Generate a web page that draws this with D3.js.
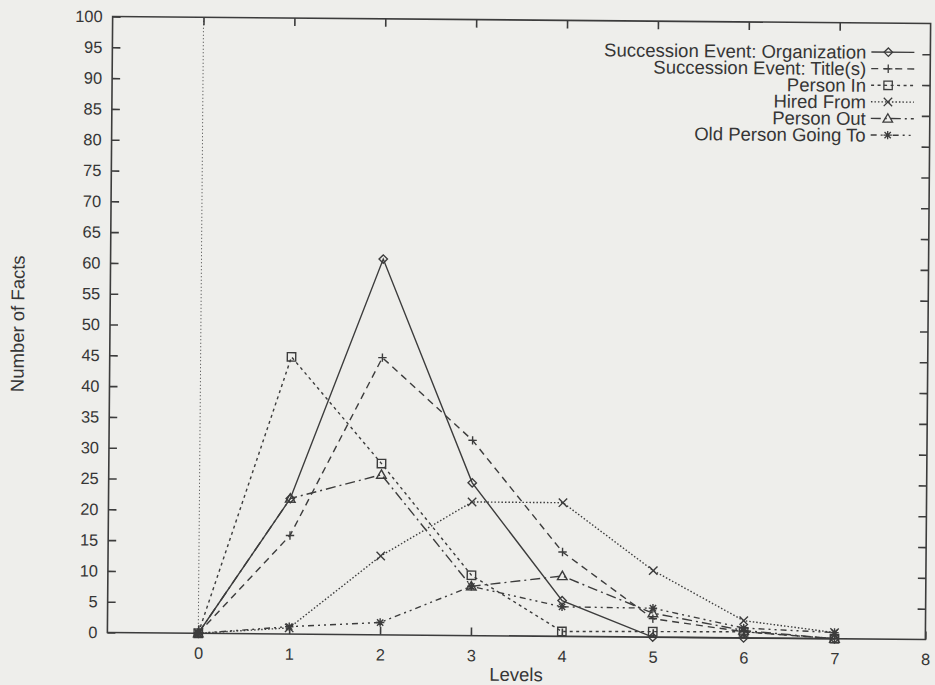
<!DOCTYPE html>
<html>
<head>
<meta charset="utf-8">
<script src="https://cdn.jsdelivr.net/npm/d3@7"></script>
<style>
  html, body { margin: 0; padding: 0; background: #eeeeeb; }
  svg { display: block; }
  text { font-family: "Liberation Sans", Arial, Helvetica, sans-serif; fill: #363636; }
</style>
</head>
<body>
<svg id="chart" width="935" height="685"></svg>
<script>
// Number of facts found at each level, one array per fact type
const levels = [0, 1, 2, 3, 4, 5, 6, 7];
const organization = [0, 22, 61, 24.8, 5.8, 0, 0, 0];
const titles       = [0, 16, 45, 31.7, 13.7, 3.0, 1.0, 0];
const personIn     = [0, 45, 27.8, 9.8, 0.8, 0.9, 1.0, 0];
const hiredFrom    = [0, 1.0, 12.8, 21.7, 21.7, 10.8, 2.8, 1.0];
const personOut    = [0, 22, 26, 8.0, 9.8, 3.9, 1.2, 0];
const oldPersonTo  = [0, 1.2, 2.0, 8.0, 4.8, 4.7, 1.6, 1.0];

const seriesNames = [
  "Succession Event: Organization",
  "Succession Event: Title(s)",
  "Person In",
  "Hired From",
  "Person Out",
  "Old Person Going To"
];
const seriesValues = [organization, titles, personIn, hiredFrom, personOut, oldPersonTo];

const xTicks = [0, 1, 2, 3, 4, 5, 6, 7, 8];
const yTicks = d3.range(0, 101, 5);

// Drawing styles: dash pattern and point symbol for each series
const dashes  = [null, "7,5", "3,3.5", "1.5,2", "10,4,2,4", "6,4,2,4,2,4"];
const symbols = ["diamond", "plus", "square", "cross", "triangle", "star"];

const ink = "#3c3c3c";
const svg = d3.select("#chart");
svg.append("rect").attr("width", 935).attr("height", 685).attr("fill", "#eeeeeb");

const plotLeft = 110, plotRight = 928, plotTop = 20, plotBottom = 636;
const x = d3.scaleLinear().domain([-1, 8]).range([plotLeft, plotRight]);
const y = d3.scaleLinear().domain([0, 100]).range([plotBottom, plotTop]);

// the printed page sits slightly turned
const g = svg.append("g").attr("transform", "rotate(0.49, 519, 328)");

// dotted line at level 0
g.append("line")
  .attr("x1", x(0)).attr("x2", x(0)).attr("y1", plotTop).attr("y2", plotBottom)
  .attr("stroke", ink).attr("stroke-width", 1).attr("stroke-dasharray", "1,2.5");

// axes with inward ticks on all four sides
const styleAxis = sel => {
  sel.select(".domain").remove();
  sel.selectAll(".tick line").attr("stroke", ink).attr("stroke-width", 1.6);
  sel.selectAll(".tick text").attr("fill", "#363636")
    .style("font-size", "16.4px").style("font-family", "'Liberation Sans', Arial, sans-serif");
};
g.append("g").attr("transform", `translate(${plotLeft},0)`)
  .call(d3.axisLeft(y).tickValues(yTicks).tickSize(-8).tickPadding(10).tickFormat(d3.format("d")))
  .call(styleAxis);
g.append("g").attr("transform", `translate(${plotRight},0)`)
  .call(d3.axisRight(y).tickValues(yTicks.slice(1, -1)).tickSize(-8).tickFormat(""))
  .call(styleAxis);
g.append("g").attr("transform", `translate(0,${plotBottom})`)
  .call(d3.axisBottom(x).tickValues(xTicks).tickSize(-8).tickPadding(14).tickFormat(d3.format("d")))
  .call(styleAxis);
g.append("g").attr("transform", `translate(0,${plotTop})`)
  .call(d3.axisTop(x).tickValues(xTicks.slice(0, -1)).tickSize(-8).tickFormat(""))
  .call(styleAxis);

// plot frame
g.append("rect")
  .attr("x", plotLeft).attr("y", plotTop)
  .attr("width", plotRight - plotLeft).attr("height", plotBottom - plotTop)
  .attr("fill", "none").attr("stroke", ink).attr("stroke-width", 1.6);

// axis titles
g.append("text").attr("x", (plotLeft + plotRight) / 2).attr("y", 681)
  .attr("text-anchor", "middle").style("font-size", "18.5px").text("Levels");
g.append("text").attr("transform", `translate(24,${(plotTop + plotBottom) / 2}) rotate(-90)`)
  .attr("text-anchor", "middle").style("font-size", "18.5px").text("Number of Facts");

// point symbols
function symbolPath(kind) {
  const r = 4.2;
  switch (kind) {
    case "diamond":  return `M0,${-r}L${r},0L0,${r}L${-r},0Z`;
    case "plus":     return `M${-r},0H${r}M0,${-r}V${r}`;
    case "square":   return `M${-r},${-r}H${r}V${r}H${-r}Z`;
    case "cross":    return `M${-r},${-r}L${r},${r}M${-r},${r}L${r},${-r}`;
    case "triangle": return `M0,${-r - 0.6}L${r + 0.6},${r - 0.6}L${-r - 0.6},${r - 0.6}Z`;
    case "star":     return `M${-r},0H${r}M0,${-r}V${r}M${-r * 0.75},${-r * 0.75}L${r * 0.75},${r * 0.75}M${-r * 0.75},${r * 0.75}L${r * 0.75},${-r * 0.75}`;
  }
}

const line = d3.line().x(d => x(d[0])).y(d => y(d[1]));

seriesValues.forEach((vals, i) => {
  const pts = levels.map((lv, k) => [lv, vals[k]]);
  g.append("path").datum(pts)
    .attr("d", line)
    .attr("fill", "none").attr("stroke", ink).attr("stroke-width", 1.4)
    .attr("stroke-dasharray", dashes[i]);
  g.append("g").selectAll("path").data(pts).join("path")
    .attr("transform", d => `translate(${x(d[0])},${y(d[1])})`)
    .attr("d", symbolPath(symbols[i]))
    .attr("fill", "none").attr("stroke", ink).attr("stroke-width", 1.4);
});

// key
const key = g.append("g");
seriesNames.forEach((name, i) => {
  const cy = 49 + i * 16.6;
  key.append("text").attr("x", 864).attr("y", cy).attr("dy", "0.36em")
    .attr("text-anchor", "end").style("font-size", "18.5px").text(name);
  key.append("line").attr("x1", 869).attr("x2", 912).attr("y1", cy).attr("y2", cy)
    .attr("stroke", ink).attr("stroke-width", 1.4).attr("stroke-dasharray", dashes[i]);
  key.append("path").attr("transform", `translate(886,${cy})`)
    .attr("d", symbolPath(symbols[i]))
    .attr("fill", "none").attr("stroke", ink).attr("stroke-width", 1.3);
});
</script>
</body>
</html>
